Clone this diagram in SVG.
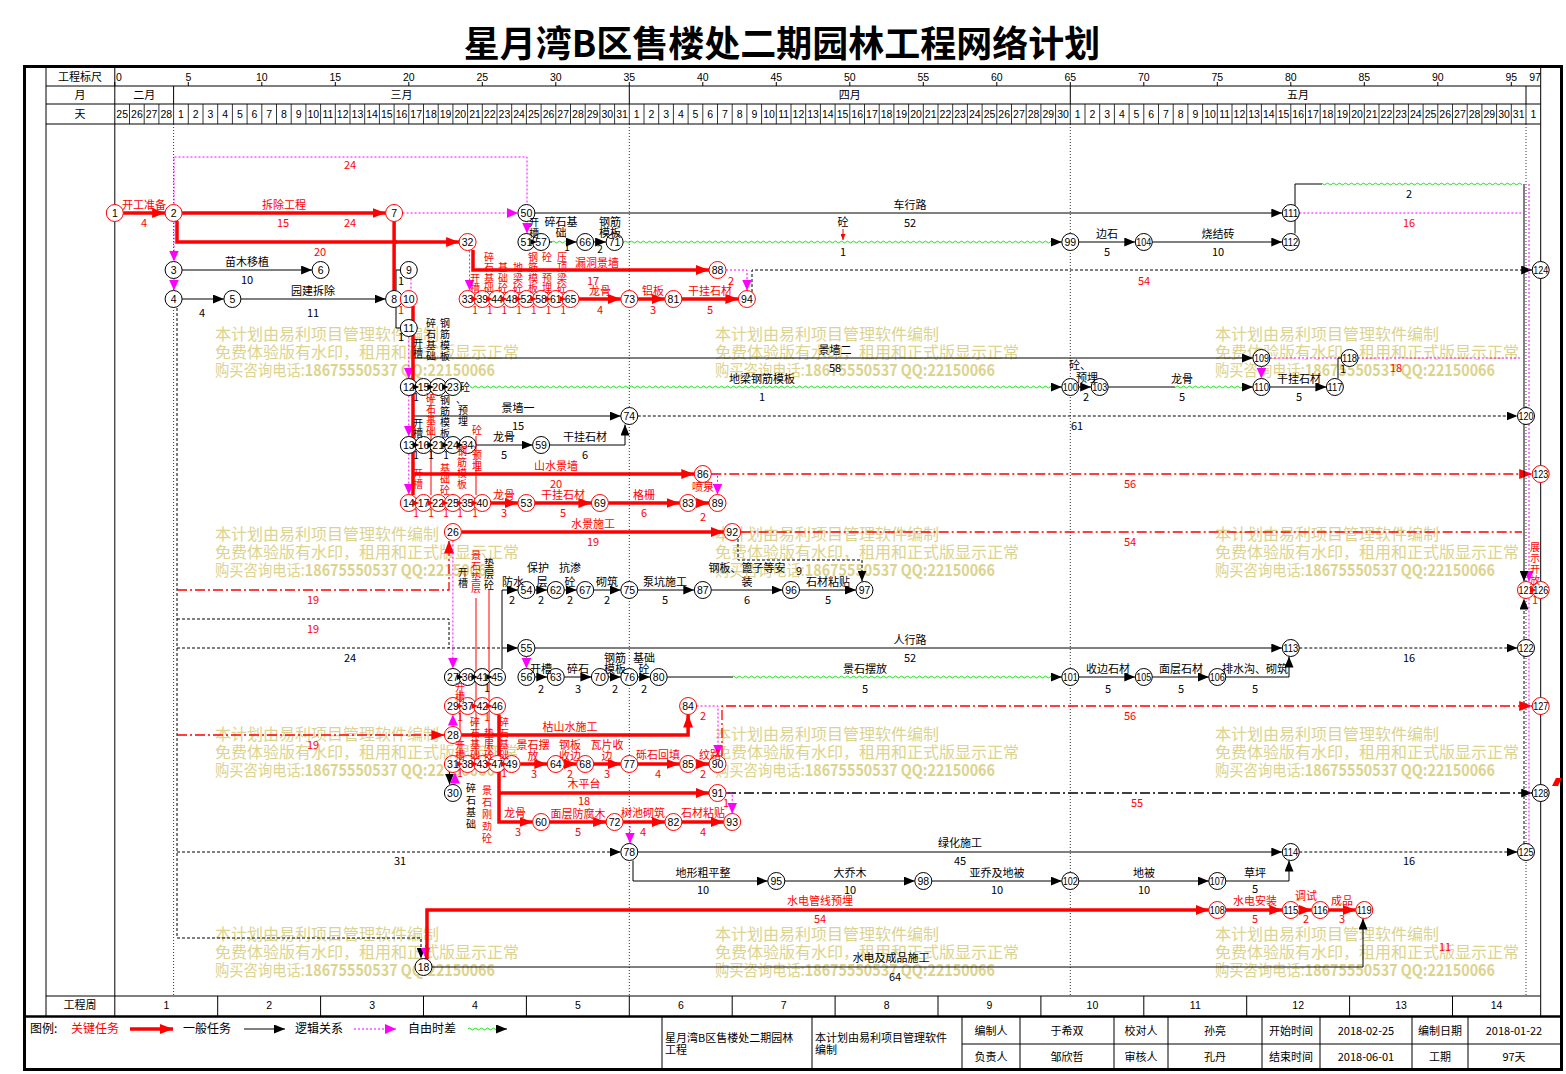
<svg xmlns="http://www.w3.org/2000/svg" width="1566" height="1074" viewBox="0 0 1566 1074">
<style>
text{font-family:"Noto Sans CJK SC","Liberation Sans",sans-serif;font-size:11px;fill:#000;text-anchor:middle}
.r{fill:#f00}
.s{text-anchor:start}
.hd{font-family:"Liberation Sans Narrow","Liberation Sans",sans-serif;font-size:10.5px}
#wm text{font-size:16px;fill:#dcd38e;text-anchor:start}
.v{font-size:10px}
.nb circle{fill:#fff;stroke:#000;stroke-width:1}
.nr circle{fill:#fff;stroke:#f00;stroke-width:1}
.nb text,.nr text{font-family:"Liberation Sans Narrow","Liberation Sans",sans-serif;font-size:10.5px}
.cr{stroke:#f00;stroke-width:3.5;fill:none}
.crt{stroke:#f00;stroke-width:1;fill:none}
.cb{stroke:#000;stroke-width:1;fill:none}
.cm{stroke:#f0f;stroke-width:1;stroke-dasharray:2 2;fill:none}
.cd{stroke:#000;stroke-width:1;stroke-dasharray:3 2;fill:none}
.crd{stroke:#f00;stroke-width:1.3;stroke-dasharray:10 3 2 3;fill:none}
.cbd{stroke:#000;stroke-width:1.3;stroke-dasharray:10 3 2 3;fill:none}
.tr{fill:#f00}
.tb{fill:#000}
</style>
<defs>
<marker id="ab" markerUnits="userSpaceOnUse" markerWidth="11" markerHeight="9" viewBox="0 0 11 9" refX="11" refY="4.5" orient="auto"><path d="M0,0L11,4.5L0,9z" fill="#000"/></marker>
<marker id="ar" markerUnits="userSpaceOnUse" markerWidth="13" markerHeight="10" viewBox="0 0 13 10" refX="13" refY="5" orient="auto"><path d="M0,0L13,5L0,10z" fill="#f00"/></marker>
<marker id="am" markerUnits="userSpaceOnUse" markerWidth="11" markerHeight="10" viewBox="0 0 11 10" refX="11" refY="5" orient="auto"><path d="M0,0L11,5L0,10z" fill="#f0f"/></marker>
<marker id="ars" markerUnits="userSpaceOnUse" markerWidth="6" markerHeight="5" viewBox="0 0 6 5" refX="6" refY="2.5" orient="auto"><path d="M0,0L6,2.5L0,5z" fill="#f00"/></marker>
<pattern id="wv" patternUnits="userSpaceOnUse" width="6" height="4"><path d="M0,2Q1.5,0.3 3,2T6,2" fill="none" stroke="#00dd00" stroke-width="0.9"/></pattern>
<path id="tri" d="M-3.5,-3L3,0L-3.5,3z"/>
<g id="wm">
<text x="0" y="0">本计划由易利项目管理软件编制</text>
<text x="0" y="18">免费体验版有水印，租用和正式版显示正常</text>
<text x="0" y="36" textLength="280" lengthAdjust="spacingAndGlyphs">购买咨询电话:<tspan font-weight="bold">18675550537 QQ:22150066</tspan></text>
</g>
</defs>

<text x="782" y="57" style="font-size:36px;font-weight:bold">星月湾B区售楼处二期园林工程网络计划</text>

<g id="frame" fill="none" stroke="#000">
<rect x="24.5" y="66.5" width="1537" height="1003" stroke-width="3"/>
<path d="M46,66V1016M114.8,66V1016M1540.7,66V1016M46,86H1540.7M46,104H1540.7M46,124H1540.7M46,996H1540.7" stroke-width="1"/>
<path d="M24,1016.5H1562" stroke-width="2.5"/>
<path d="M173.6,86V104M629.3,86V104M1070.3,86V104M1526,86V104" stroke-width="1"/>
<path d="M114.8,82V86M188.3,82V86M261.8,82V86M335.3,82V86M408.8,82V86M482.3,82V86M555.8,82V86M629.3,82V86M702.8,82V86M776.3,82V86M849.8,82V86M923.3,82V86M996.8,82V86M1070.3,82V86M1143.8,82V86M1217.3,82V86M1290.8,82V86M1364.3,82V86M1437.8,82V86M1511.3,82V86" stroke-width="1"/>
<path stroke-width="0.8" d="M129.5,104V124M144.2,104V124M158.9,104V124M173.6,104V124M188.3,104V124M203,104V124M217.7,104V124M232.4,104V124M247.1,104V124M261.8,104V124M276.5,104V124M291.2,104V124M305.9,104V124M320.6,104V124M335.3,104V124M350,104V124M364.7,104V124M379.4,104V124M394.1,104V124M408.8,104V124M423.5,104V124M438.2,104V124M452.9,104V124M467.6,104V124M482.3,104V124M497,104V124M511.7,104V124M526.4,104V124M541.1,104V124M555.8,104V124M570.5,104V124M585.2,104V124M599.9,104V124M614.6,104V124M629.3,104V124M644,104V124M658.7,104V124M673.4,104V124M688.1,104V124M702.8,104V124M717.5,104V124M732.2,104V124M746.9,104V124M761.6,104V124M776.3,104V124M791,104V124M805.7,104V124M820.4,104V124M835.1,104V124M849.8,104V124M864.5,104V124M879.2,104V124M893.9,104V124M908.6,104V124M923.3,104V124M938,104V124M952.7,104V124M967.4,104V124M982.1,104V124M996.8,104V124M1011.5,104V124M1026.2,104V124M1040.9,104V124M1055.6,104V124M1070.3,104V124M1085,104V124M1099.7,104V124M1114.4,104V124M1129.1,104V124M1143.8,104V124M1158.5,104V124M1173.2,104V124M1187.9,104V124M1202.6,104V124M1217.3,104V124M1232,104V124M1246.7,104V124M1261.4,104V124M1276.1,104V124M1290.8,104V124M1305.5,104V124M1320.2,104V124M1334.9,104V124M1349.6,104V124M1364.3,104V124M1379,104V124M1393.7,104V124M1408.4,104V124M1423.1,104V124M1437.8,104V124M1452.5,104V124M1467.2,104V124M1481.9,104V124M1496.6,104V124M1511.3,104V124M1526,104V124"/>
<path d="M217.7,996V1016M320.6,996V1016M423.5,996V1016M526.4,996V1016M629.3,996V1016M732.2,996V1016M835.1,996V1016M938,996V1016M1040.9,996V1016M1143.8,996V1016M1246.7,996V1016M1349.6,996V1016M1452.5,996V1016" stroke-width="1"/>
<path d="M662,1016V1069M812,1016V1069M962,1016V1069M1020,1016V1069M1114,1016V1069M1168,1016V1069M1262,1016V1069M1320,1016V1069M1412,1016V1069M1468,1016V1069M962,1044H1562" stroke-width="1"/>
<path d="M173.6,124V996M629.3,124V996M1070.3,124V996M1526,124V996" stroke-width="0.8" stroke-dasharray="1 2"/>
</g>

<g id="header">
<text x="80" y="81">工程标尺</text>
<text x="80" y="99">月</text>
<text x="80" y="118">天</text>
<text x="80" y="1009">工程周</text>
<text x="119" y="81" class="hd">0</text><text class="hd" x="188.3" y="81">5</text><text class="hd" x="261.8" y="81">10</text><text class="hd" x="335.3" y="81">15</text><text class="hd" x="408.8" y="81">20</text><text class="hd" x="482.3" y="81">25</text><text class="hd" x="555.8" y="81">30</text><text class="hd" x="629.3" y="81">35</text><text class="hd" x="702.8" y="81">40</text><text class="hd" x="776.3" y="81">45</text><text class="hd" x="849.8" y="81">50</text><text class="hd" x="923.3" y="81">55</text><text class="hd" x="996.8" y="81">60</text><text class="hd" x="1070.3" y="81">65</text><text class="hd" x="1143.8" y="81">70</text><text class="hd" x="1217.3" y="81">75</text><text class="hd" x="1290.8" y="81">80</text><text class="hd" x="1364.3" y="81">85</text><text class="hd" x="1437.8" y="81">90</text><text class="hd" x="1511.3" y="81">95</text><text class="hd" x="1535" y="81">97</text>
<text x="144.2" y="99">二月</text><text x="401.5" y="99">三月</text><text x="849.8" y="99">四月</text><text x="1298" y="99">五月</text>
<text class="hd" y="118"><tspan x="122.2">25</tspan><tspan x="136.9">26</tspan><tspan x="151.6">27</tspan><tspan x="166.3">28</tspan><tspan x="181">1</tspan><tspan x="195.7">2</tspan><tspan x="210.4">3</tspan><tspan x="225.1">4</tspan><tspan x="239.8">5</tspan><tspan x="254.5">6</tspan><tspan x="269.2">7</tspan><tspan x="283.9">8</tspan><tspan x="298.6">9</tspan><tspan x="313.3">10</tspan><tspan x="328">11</tspan><tspan x="342.7">12</tspan><tspan x="357.4">13</tspan><tspan x="372.1">14</tspan><tspan x="386.8">15</tspan><tspan x="401.5">16</tspan><tspan x="416.2">17</tspan><tspan x="430.9">18</tspan><tspan x="445.6">19</tspan><tspan x="460.3">20</tspan><tspan x="475">21</tspan><tspan x="489.7">22</tspan><tspan x="504.4">23</tspan><tspan x="519.1">24</tspan><tspan x="533.8">25</tspan><tspan x="548.5">26</tspan><tspan x="563.2">27</tspan><tspan x="577.9">28</tspan><tspan x="592.6">29</tspan><tspan x="607.3">30</tspan><tspan x="622">31</tspan><tspan x="636.7">1</tspan><tspan x="651.4">2</tspan><tspan x="666.1">3</tspan><tspan x="680.8">4</tspan><tspan x="695.5">5</tspan><tspan x="710.2">6</tspan><tspan x="724.9">7</tspan><tspan x="739.6">8</tspan><tspan x="754.3">9</tspan><tspan x="769">10</tspan><tspan x="783.7">11</tspan><tspan x="798.4">12</tspan><tspan x="813.1">13</tspan><tspan x="827.8">14</tspan><tspan x="842.5">15</tspan><tspan x="857.2">16</tspan><tspan x="871.9">17</tspan><tspan x="886.6">18</tspan><tspan x="901.3">19</tspan><tspan x="916">20</tspan><tspan x="930.7">21</tspan><tspan x="945.4">22</tspan><tspan x="960.1">23</tspan><tspan x="974.8">24</tspan><tspan x="989.5">25</tspan><tspan x="1004.2">26</tspan><tspan x="1018.9">27</tspan><tspan x="1033.6">28</tspan><tspan x="1048.3">29</tspan><tspan x="1063">30</tspan><tspan x="1077.7">1</tspan><tspan x="1092.4">2</tspan><tspan x="1107.1">3</tspan><tspan x="1121.8">4</tspan><tspan x="1136.5">5</tspan><tspan x="1151.2">6</tspan><tspan x="1165.9">7</tspan><tspan x="1180.6">8</tspan><tspan x="1195.3">9</tspan><tspan x="1210">10</tspan><tspan x="1224.7">11</tspan><tspan x="1239.4">12</tspan><tspan x="1254.1">13</tspan><tspan x="1268.8">14</tspan><tspan x="1283.5">15</tspan><tspan x="1298.2">16</tspan><tspan x="1312.9">17</tspan><tspan x="1327.6">18</tspan><tspan x="1342.3">19</tspan><tspan x="1357">20</tspan><tspan x="1371.7">21</tspan><tspan x="1386.4">22</tspan><tspan x="1401.1">23</tspan><tspan x="1415.8">24</tspan><tspan x="1430.5">25</tspan><tspan x="1445.2">26</tspan><tspan x="1459.9">27</tspan><tspan x="1474.6">28</tspan><tspan x="1489.3">29</tspan><tspan x="1504">30</tspan><tspan x="1518.7">31</tspan><tspan x="1533.4">1</tspan></text>
<text class="hd" y="1009"><tspan x="166.3">1</tspan><tspan x="269.2">2</tspan><tspan x="372.1">3</tspan><tspan x="475">4</tspan><tspan x="577.9">5</tspan><tspan x="680.8">6</tspan><tspan x="783.7">7</tspan><tspan x="886.6">8</tspan><tspan x="989.5">9</tspan><tspan x="1092.4">10</tspan><tspan x="1195.3">11</tspan><tspan x="1298.2">12</tspan><tspan x="1401.1">13</tspan><tspan x="1496.6">14</tspan></text>
</g>

<g id="watermarks">
<use href="#wm" x="215" y="340"/><use href="#wm" x="715" y="340"/><use href="#wm" x="1215" y="340"/>
<use href="#wm" x="215" y="540"/><use href="#wm" x="715" y="540"/><use href="#wm" x="1215" y="540"/>
<use href="#wm" x="215" y="740"/><use href="#wm" x="715" y="740"/><use href="#wm" x="1215" y="740"/>
<use href="#wm" x="215" y="940"/><use href="#wm" x="715" y="940"/><use href="#wm" x="1215" y="940"/>
</g>

<g id="connectors">
<rect x="623" y="0" width="432" height="4" fill="url(#wv)" transform="translate(0,240)"/>
<rect x="552" y="0" width="16" height="4" fill="url(#wv)" transform="translate(0,240)"/>
<rect x="470" y="0" width="585" height="4" fill="url(#wv)" transform="translate(0,385)"/>
<rect x="1175" y="0" width="70" height="4" fill="url(#wv)" transform="translate(0,385)"/>
<rect x="733" y="0" width="322" height="4" fill="url(#wv)" transform="translate(0,675)"/>
<rect x="1322" y="0" width="200" height="4" fill="url(#wv)" transform="translate(0,182)"/>
<path class="cd" d="M177,308V938H421V958.5" marker-end="url(#ab)"/>
<path class="cd" d="M177,619H449V648"/>
<path class="cd" d="M177,648H502"/>
<path class="cd" d="M177,852H620.8" marker-end="url(#ab)"/>
<path class="cd" d="M637.8,416H1517.5" marker-end="url(#ab)"/>
<path class="cd" d="M752,292V270H1532.2" marker-end="url(#ab)"/>
<path class="cd" d="M1299.3,648H1517.5" marker-end="url(#ab)"/>
<path class="cd" d="M1299.3,852H1517.5" marker-end="url(#ab)"/>
<path class="cd" d="M738,539V560H862V581.5" marker-end="url(#ab)"/>
<path class="cd" d="M1524,844V598.5" marker-end="url(#ab)"/>
<path class="crd" d="M177,590H449V540.5" marker-end="url(#ar)"/>
<path class="crd" d="M177,735H444.4" marker-end="url(#ar)"/>
<path class="crd" d="M711.3,474H1532.2" marker-end="url(#ar)"/>
<path class="crd" d="M740.7,532H1522"/>
<path class="crd" d="M722,756V706H1532.2" marker-end="url(#ar)"/>
<path class="cbd" d="M726,793H1532.2" marker-end="url(#ab)"/>
<path class="cm" d="M174,204.5V157H527V233.5" marker-end="url(#am)"/>
<path class="cm" d="M174,221.5V261.5" marker-end="url(#am)"/>
<path class="cm" d="M174,278.5V290.5" marker-end="url(#am)"/>
<path class="cm" d="M402.6,213H517.9" marker-end="url(#am)"/>
<path class="cm" d="M469.6,250.5V290.5" marker-end="url(#am)"/>
<path class="cm" d="M726,270H747V290.5" marker-end="url(#am)"/>
<path class="cm" d="M411,278.5V290.5"/>
<path class="cm" d="M408.8,336.5V378.5" marker-end="url(#am)"/>
<path class="cm" d="M408.8,395.5V436.5" marker-end="url(#am)"/>
<path class="cm" d="M408.8,453.5V494.5" marker-end="url(#am)"/>
<path class="cm" d="M711.3,474H717.5V494.5" marker-end="url(#am)"/>
<path class="cm" d="M1269.9,358H1522"/>
<path class="cm" d="M1261.4,366.5V378.5" marker-end="url(#am)"/>
<path class="cm" d="M1299.3,213H1522"/>
<path class="cm" d="M452.9,540.5V668.5" marker-end="url(#am)"/>
<path class="cm" d="M526.4,656.5V668.5" marker-end="url(#am)"/>
<path class="cm" d="M696.6,706H718V755.5" marker-end="url(#am)"/>
<path class="cm" d="M726,793H732.2V813.5" marker-end="url(#am)"/>
<path class="cm" d="M452.9,726.5V714.5" marker-end="url(#am)"/>
<path class="cm" d="M455,784.5V772.5" marker-end="url(#am)"/>
<path class="cm" d="M630,822V843.5" marker-end="url(#am)"/>
<path class="cm" d="M1529,184V581.5" marker-end="url(#am)"/>
<path class="cm" d="M1529,598.5V845"/>
<path class="cm" d="M425.5,945V958.5" marker-end="url(#am)"/>
<path class="cb" d="M182.1,270H312.1" marker-end="url(#ab)"/>
<path class="cb" d="M182.1,299H223.9" marker-end="url(#ab)"/>
<path class="cb" d="M240.9,299H385.6" marker-end="url(#ab)"/>
<path class="cb" d="M396,290.5V270H400.3"/>
<path class="cb" d="M396,307.5V328H400.3"/>
<path class="cb" d="M413,358H1252.9" marker-end="url(#ab)"/>
<path class="cb" d="M413,416H620.8" marker-end="url(#ab)"/>
<path class="cb" d="M476.1,445H532.6" marker-end="url(#ab)"/>
<path class="cb" d="M549.6,445H625V424.5" marker-end="url(#ab)"/>
<path class="cb" d="M534.9,213H1282.3" marker-end="url(#ab)"/>
<path class="cb" d="M1295,233.5V184H1322"/>
<path class="cb" d="M549.6,242H552M568,242H576.7" marker-end="url(#ab)"/>
<path class="cb" d="M593.7,242H606.1" marker-end="url(#ab)"/>
<path class="cb" d="M1055,242H1061.8" marker-end="url(#ab)"/>
<path class="cb" d="M1078.8,242H1135.3" marker-end="url(#ab)"/>
<path class="cb" d="M1152.3,242H1282.3" marker-end="url(#ab)"/>
<path class="cb" d="M1055,387H1061.8" marker-end="url(#ab)"/>
<path class="cb" d="M1078.8,387H1091.2" marker-end="url(#ab)"/>
<path class="cb" d="M1108.2,387H1175"/>
<path class="cb" d="M1245,387H1252.9" marker-end="url(#ab)"/>
<path class="cb" d="M1269.9,387H1326.4" marker-end="url(#ab)"/>
<path class="cb" d="M1338,378.5V358H1341.1"/>
<path class="cb" d="M502,669V590H517.9" marker-end="url(#ab)"/>
<path class="cb" d="M502,648H517.9" marker-end="url(#ab)"/>
<path class="cb" d="M534.9,590H547.3" marker-end="url(#ab)"/>
<path class="cb" d="M564.3,590H576.7" marker-end="url(#ab)"/>
<path class="cb" d="M593.7,590H620.8" marker-end="url(#ab)"/>
<path class="cb" d="M637.8,590H694.3" marker-end="url(#ab)"/>
<path class="cb" d="M711.3,590H782.5" marker-end="url(#ab)"/>
<path class="cb" d="M799.5,590H856" marker-end="url(#ab)"/>
<path class="cb" d="M534.9,648H1282.3" marker-end="url(#ab)"/>
<path class="cb" d="M534.9,677H547.3" marker-end="url(#ab)"/>
<path class="cb" d="M564.3,677H591.4" marker-end="url(#ab)"/>
<path class="cb" d="M608.4,677H620.8" marker-end="url(#ab)"/>
<path class="cb" d="M637.8,677H650.2" marker-end="url(#ab)"/>
<path class="cb" d="M667.2,677H733"/>
<path class="cb" d="M1055,677H1061.8" marker-end="url(#ab)"/>
<path class="cb" d="M1078.8,677H1135.3" marker-end="url(#ab)"/>
<path class="cb" d="M1152.3,677H1208.8" marker-end="url(#ab)"/>
<path class="cb" d="M1225.8,677H1289V656.5" marker-end="url(#ab)"/>
<path class="cb" d="M637.8,852H1282.3" marker-end="url(#ab)"/>
<path class="cb" d="M633,860.5V881H767.8" marker-end="url(#ab)"/>
<path class="cb" d="M784.8,881H914.8" marker-end="url(#ab)"/>
<path class="cb" d="M931.8,881H1061.8" marker-end="url(#ab)"/>
<path class="cb" d="M1078.8,881H1208.8" marker-end="url(#ab)"/>
<path class="cb" d="M1225.8,881H1289V860.5" marker-end="url(#ab)"/>
<path class="cb" d="M432,967H1363V918.5" marker-end="url(#ab)"/>
<path class="cb" d="M1524,184V581.5" marker-end="url(#ab)"/>
<path class="cb" d="M449.5,772V784.5" marker-end="url(#ab)"/>
<path class="cr" d="M123.3,213H165.1" marker-end="url(#ar)"/>
<path class="cr" d="M182.1,213H385.6" marker-end="url(#ar)"/>
<path class="cr" d="M177,221V242H459.1" marker-end="url(#ar)"/>
<path class="cr" d="M394.1,221.5V292"/>
<path class="cr" d="M413,306V495"/>
<path class="cr" d="M413,474H694.3" marker-end="url(#ar)"/>
<path class="cr" d="M473,250V270H709" marker-end="url(#ar)"/>
<path class="cr" d="M579,299H620.8" marker-end="url(#ar)"/>
<path class="cr" d="M637.8,299H664.9" marker-end="url(#ar)"/>
<path class="cr" d="M681.9,299H738.4" marker-end="url(#ar)"/>
<path class="cr" d="M490.8,503H517.9" marker-end="url(#ar)"/>
<path class="cr" d="M534.9,503H591.4" marker-end="url(#ar)"/>
<path class="cr" d="M608.4,503H679.6" marker-end="url(#ar)"/>
<path class="cr" d="M696.6,503H709" marker-end="url(#ar)"/>
<path class="cr" d="M461.4,532H723.7" marker-end="url(#ar)"/>
<path class="cr" d="M461.4,735H688.1V714.5" marker-end="url(#ar)"/>
<path class="cr" d="M520.2,764H547.3" marker-end="url(#ar)"/>
<path class="cr" d="M564.3,764H576.7" marker-end="url(#ar)"/>
<path class="cr" d="M593.7,764H620.8" marker-end="url(#ar)"/>
<path class="cr" d="M637.8,764H679.6" marker-end="url(#ar)"/>
<path class="cr" d="M696.6,764H709" marker-end="url(#ar)"/>
<path class="cr" d="M499,714.5V822H532.6" marker-end="url(#ar)"/>
<path class="cr" d="M499,793H709" marker-end="url(#ar)"/>
<path class="cr" d="M549.6,822H606.1" marker-end="url(#ar)"/>
<path class="cr" d="M623.1,822H664.9" marker-end="url(#ar)"/>
<path class="cr" d="M681.9,822H723.7" marker-end="url(#ar)"/>
<path class="cr" d="M427,959V910H1208.8" marker-end="url(#ar)"/>
<path class="cr" d="M1225.8,910H1282.3" marker-end="url(#ar)"/>
<path class="cr" d="M1299.3,910H1311.7" marker-end="url(#ar)"/>
<path class="cr" d="M1328.7,910H1355.8" marker-end="url(#ar)"/>
<path class="crt" d="M843,229V240" marker-end="url(#ars)"/>
<path class="crt" d="M431,395V495M476,436V495M460,690V756M476,598V756M489,590V756"/>
</g>

<g id="nodes">
<g id="n1" class="nr"><circle cx="114.8" cy="213" r="8.5"/><text x="114.8" y="216.7">1</text></g>
<g id="n2" class="nr"><circle cx="173.6" cy="213" r="8.5"/><text x="173.6" y="216.7">2</text></g>
<g id="n7" class="nr"><circle cx="394.1" cy="213" r="8.5"/><text x="394.1" y="216.7">7</text></g>
<g id="n50" class="nb"><circle cx="526.4" cy="213" r="8.5"/><text x="526.4" y="216.7">50</text></g>
<g id="n111" class="nb"><circle cx="1290.8" cy="213" r="8.5"/><text x="1290.8" y="216.7" textLength="15" lengthAdjust="spacingAndGlyphs">111</text></g>
<g id="n32" class="nr"><circle cx="467.6" cy="242" r="8.5"/><text x="467.6" y="245.7">32</text></g>
<g id="n51" class="nb"><circle cx="526.4" cy="242" r="8.5"/><text x="526.4" y="245.7">51</text></g>
<g id="n57" class="nb"><circle cx="541.1" cy="242" r="8.5"/><text x="541.1" y="245.7">57</text></g>
<g id="n66" class="nb"><circle cx="585.2" cy="242" r="8.5"/><text x="585.2" y="245.7">66</text></g>
<g id="n71" class="nb"><circle cx="614.6" cy="242" r="8.5"/><text x="614.6" y="245.7">71</text></g>
<g id="n99" class="nb"><circle cx="1070.3" cy="242" r="8.5"/><text x="1070.3" y="245.7">99</text></g>
<g id="n104" class="nb"><circle cx="1143.8" cy="242" r="8.5"/><text x="1143.8" y="245.7" textLength="15" lengthAdjust="spacingAndGlyphs">104</text></g>
<g id="n112" class="nb"><circle cx="1290.8" cy="242" r="8.5"/><text x="1290.8" y="245.7" textLength="15" lengthAdjust="spacingAndGlyphs">112</text></g>
<g id="n3" class="nb"><circle cx="173.6" cy="270" r="8.5"/><text x="173.6" y="273.7">3</text></g>
<g id="n6" class="nb"><circle cx="320.6" cy="270" r="8.5"/><text x="320.6" y="273.7">6</text></g>
<g id="n9" class="nb"><circle cx="408.8" cy="270" r="8.5"/><text x="408.8" y="273.7">9</text></g>
<g id="n88" class="nr"><circle cx="717.5" cy="270" r="8.5"/><text x="717.5" y="273.7">88</text></g>
<g id="n124" class="nb"><circle cx="1540.7" cy="270" r="8.5"/><text x="1540.7" y="273.7" textLength="15" lengthAdjust="spacingAndGlyphs">124</text></g>
<g id="n4" class="nb"><circle cx="173.6" cy="299" r="8.5"/><text x="173.6" y="302.7">4</text></g>
<g id="n5" class="nb"><circle cx="232.4" cy="299" r="8.5"/><text x="232.4" y="302.7">5</text></g>
<g id="n8" class="nb"><circle cx="394.1" cy="299" r="8.5"/><text x="394.1" y="302.7">8</text></g>
<g id="n10" class="nr"><circle cx="408.8" cy="299" r="8.5"/><text x="408.8" y="302.7">10</text></g>
<g id="n33" class="nr"><circle cx="467.6" cy="299" r="8.5"/><text x="467.6" y="302.7">33</text></g>
<g id="n39" class="nr"><circle cx="482.3" cy="299" r="8.5"/><text x="482.3" y="302.7">39</text></g>
<g id="n44" class="nr"><circle cx="497" cy="299" r="8.5"/><text x="497" y="302.7">44</text></g>
<g id="n48" class="nr"><circle cx="511.7" cy="299" r="8.5"/><text x="511.7" y="302.7">48</text></g>
<g id="n52" class="nr"><circle cx="526.4" cy="299" r="8.5"/><text x="526.4" y="302.7">52</text></g>
<g id="n58" class="nr"><circle cx="541.1" cy="299" r="8.5"/><text x="541.1" y="302.7">58</text></g>
<g id="n61" class="nr"><circle cx="555.8" cy="299" r="8.5"/><text x="555.8" y="302.7">61</text></g>
<g id="n65" class="nr"><circle cx="570.5" cy="299" r="8.5"/><text x="570.5" y="302.7">65</text></g>
<g id="n73" class="nr"><circle cx="629.3" cy="299" r="8.5"/><text x="629.3" y="302.7">73</text></g>
<g id="n81" class="nr"><circle cx="673.4" cy="299" r="8.5"/><text x="673.4" y="302.7">81</text></g>
<g id="n94" class="nr"><circle cx="746.9" cy="299" r="8.5"/><text x="746.9" y="302.7">94</text></g>
<g id="n11" class="nb"><circle cx="408.8" cy="328" r="8.5"/><text x="408.8" y="331.7">11</text></g>
<g id="n109" class="nb"><circle cx="1261.4" cy="358" r="8.5"/><text x="1261.4" y="361.7" textLength="15" lengthAdjust="spacingAndGlyphs">109</text></g>
<g id="n118" class="nb"><circle cx="1349.6" cy="358" r="8.5"/><text x="1349.6" y="361.7" textLength="15" lengthAdjust="spacingAndGlyphs">118</text></g>
<g id="n12" class="nb"><circle cx="408.8" cy="387" r="8.5"/><text x="408.8" y="390.7">12</text></g>
<g id="n15" class="nb"><circle cx="423.5" cy="387" r="8.5"/><text x="423.5" y="390.7">15</text></g>
<g id="n20" class="nb"><circle cx="438.2" cy="387" r="8.5"/><text x="438.2" y="390.7">20</text></g>
<g id="n23" class="nb"><circle cx="452.9" cy="387" r="8.5"/><text x="452.9" y="390.7">23</text></g>
<g id="n100" class="nb"><circle cx="1070.3" cy="387" r="8.5"/><text x="1070.3" y="390.7" textLength="15" lengthAdjust="spacingAndGlyphs">100</text></g>
<g id="n103" class="nb"><circle cx="1099.7" cy="387" r="8.5"/><text x="1099.7" y="390.7" textLength="15" lengthAdjust="spacingAndGlyphs">103</text></g>
<g id="n110" class="nb"><circle cx="1261.4" cy="387" r="8.5"/><text x="1261.4" y="390.7" textLength="15" lengthAdjust="spacingAndGlyphs">110</text></g>
<g id="n117" class="nb"><circle cx="1334.9" cy="387" r="8.5"/><text x="1334.9" y="390.7" textLength="15" lengthAdjust="spacingAndGlyphs">117</text></g>
<g id="n74" class="nb"><circle cx="629.3" cy="416" r="8.5"/><text x="629.3" y="419.7">74</text></g>
<g id="n120" class="nb"><circle cx="1526" cy="416" r="8.5"/><text x="1526" y="419.7" textLength="15" lengthAdjust="spacingAndGlyphs">120</text></g>
<g id="n13" class="nb"><circle cx="408.8" cy="445" r="8.5"/><text x="408.8" y="448.7">13</text></g>
<g id="n16" class="nb"><circle cx="423.5" cy="445" r="8.5"/><text x="423.5" y="448.7">16</text></g>
<g id="n21" class="nb"><circle cx="438.2" cy="445" r="8.5"/><text x="438.2" y="448.7">21</text></g>
<g id="n24" class="nb"><circle cx="452.9" cy="445" r="8.5"/><text x="452.9" y="448.7">24</text></g>
<g id="n34" class="nb"><circle cx="467.6" cy="445" r="8.5"/><text x="467.6" y="448.7">34</text></g>
<g id="n59" class="nb"><circle cx="541.1" cy="445" r="8.5"/><text x="541.1" y="448.7">59</text></g>
<g id="n86" class="nr"><circle cx="702.8" cy="474" r="8.5"/><text x="702.8" y="477.7">86</text></g>
<g id="n123" class="nr"><circle cx="1540.7" cy="474" r="8.5"/><text x="1540.7" y="477.7" textLength="15" lengthAdjust="spacingAndGlyphs">123</text></g>
<g id="n14" class="nr"><circle cx="408.8" cy="503" r="8.5"/><text x="408.8" y="506.7">14</text></g>
<g id="n17" class="nr"><circle cx="423.5" cy="503" r="8.5"/><text x="423.5" y="506.7">17</text></g>
<g id="n22" class="nr"><circle cx="438.2" cy="503" r="8.5"/><text x="438.2" y="506.7">22</text></g>
<g id="n25" class="nr"><circle cx="452.9" cy="503" r="8.5"/><text x="452.9" y="506.7">25</text></g>
<g id="n35" class="nr"><circle cx="467.6" cy="503" r="8.5"/><text x="467.6" y="506.7">35</text></g>
<g id="n40" class="nr"><circle cx="482.3" cy="503" r="8.5"/><text x="482.3" y="506.7">40</text></g>
<g id="n53" class="nr"><circle cx="526.4" cy="503" r="8.5"/><text x="526.4" y="506.7">53</text></g>
<g id="n69" class="nr"><circle cx="599.9" cy="503" r="8.5"/><text x="599.9" y="506.7">69</text></g>
<g id="n83" class="nr"><circle cx="688.1" cy="503" r="8.5"/><text x="688.1" y="506.7">83</text></g>
<g id="n89" class="nr"><circle cx="717.5" cy="503" r="8.5"/><text x="717.5" y="506.7">89</text></g>
<g id="n26" class="nr"><circle cx="452.9" cy="532" r="8.5"/><text x="452.9" y="535.7">26</text></g>
<g id="n92" class="nr"><circle cx="732.2" cy="532" r="8.5"/><text x="732.2" y="535.7">92</text></g>
<g id="n54" class="nb"><circle cx="526.4" cy="590" r="8.5"/><text x="526.4" y="593.7">54</text></g>
<g id="n62" class="nb"><circle cx="555.8" cy="590" r="8.5"/><text x="555.8" y="593.7">62</text></g>
<g id="n67" class="nb"><circle cx="585.2" cy="590" r="8.5"/><text x="585.2" y="593.7">67</text></g>
<g id="n75" class="nb"><circle cx="629.3" cy="590" r="8.5"/><text x="629.3" y="593.7">75</text></g>
<g id="n87" class="nb"><circle cx="702.8" cy="590" r="8.5"/><text x="702.8" y="593.7">87</text></g>
<g id="n96" class="nb"><circle cx="791" cy="590" r="8.5"/><text x="791" y="593.7">96</text></g>
<g id="n97" class="nb"><circle cx="864.5" cy="590" r="8.5"/><text x="864.5" y="593.7">97</text></g>
<g id="n121" class="nr"><circle cx="1526" cy="590" r="8.5"/><text x="1526" y="593.7" textLength="15" lengthAdjust="spacingAndGlyphs">121</text></g>
<g id="n126" class="nr"><circle cx="1540.7" cy="590" r="8.5"/><text x="1540.7" y="593.7" textLength="15" lengthAdjust="spacingAndGlyphs">126</text></g>
<g id="n55" class="nb"><circle cx="526.4" cy="648" r="8.5"/><text x="526.4" y="651.7">55</text></g>
<g id="n113" class="nb"><circle cx="1290.8" cy="648" r="8.5"/><text x="1290.8" y="651.7" textLength="15" lengthAdjust="spacingAndGlyphs">113</text></g>
<g id="n122" class="nb"><circle cx="1526" cy="648" r="8.5"/><text x="1526" y="651.7" textLength="15" lengthAdjust="spacingAndGlyphs">122</text></g>
<g id="n27" class="nb"><circle cx="452.9" cy="677" r="8.5"/><text x="452.9" y="680.7">27</text></g>
<g id="n36" class="nb"><circle cx="467.6" cy="677" r="8.5"/><text x="467.6" y="680.7">36</text></g>
<g id="n41" class="nb"><circle cx="482.3" cy="677" r="8.5"/><text x="482.3" y="680.7">41</text></g>
<g id="n45" class="nb"><circle cx="497" cy="677" r="8.5"/><text x="497" y="680.7">45</text></g>
<g id="n56" class="nb"><circle cx="526.4" cy="677" r="8.5"/><text x="526.4" y="680.7">56</text></g>
<g id="n63" class="nb"><circle cx="555.8" cy="677" r="8.5"/><text x="555.8" y="680.7">63</text></g>
<g id="n70" class="nb"><circle cx="599.9" cy="677" r="8.5"/><text x="599.9" y="680.7">70</text></g>
<g id="n76" class="nb"><circle cx="629.3" cy="677" r="8.5"/><text x="629.3" y="680.7">76</text></g>
<g id="n80" class="nb"><circle cx="658.7" cy="677" r="8.5"/><text x="658.7" y="680.7">80</text></g>
<g id="n101" class="nb"><circle cx="1070.3" cy="677" r="8.5"/><text x="1070.3" y="680.7" textLength="15" lengthAdjust="spacingAndGlyphs">101</text></g>
<g id="n105" class="nb"><circle cx="1143.8" cy="677" r="8.5"/><text x="1143.8" y="680.7" textLength="15" lengthAdjust="spacingAndGlyphs">105</text></g>
<g id="n106" class="nb"><circle cx="1217.3" cy="677" r="8.5"/><text x="1217.3" y="680.7" textLength="15" lengthAdjust="spacingAndGlyphs">106</text></g>
<g id="n29" class="nr"><circle cx="452.9" cy="706" r="8.5"/><text x="452.9" y="709.7">29</text></g>
<g id="n37" class="nr"><circle cx="467.6" cy="706" r="8.5"/><text x="467.6" y="709.7">37</text></g>
<g id="n42" class="nr"><circle cx="482.3" cy="706" r="8.5"/><text x="482.3" y="709.7">42</text></g>
<g id="n46" class="nr"><circle cx="497" cy="706" r="8.5"/><text x="497" y="709.7">46</text></g>
<g id="n84" class="nr"><circle cx="688.1" cy="706" r="8.5"/><text x="688.1" y="709.7">84</text></g>
<g id="n127" class="nr"><circle cx="1540.7" cy="706" r="8.5"/><text x="1540.7" y="709.7" textLength="15" lengthAdjust="spacingAndGlyphs">127</text></g>
<g id="n28" class="nr"><circle cx="452.9" cy="735" r="8.5"/><text x="452.9" y="738.7">28</text></g>
<g id="n31" class="nr"><circle cx="452.9" cy="764" r="8.5"/><text x="452.9" y="767.7">31</text></g>
<g id="n38" class="nr"><circle cx="467.6" cy="764" r="8.5"/><text x="467.6" y="767.7">38</text></g>
<g id="n43" class="nr"><circle cx="482.3" cy="764" r="8.5"/><text x="482.3" y="767.7">43</text></g>
<g id="n47" class="nr"><circle cx="497" cy="764" r="8.5"/><text x="497" y="767.7">47</text></g>
<g id="n49" class="nr"><circle cx="511.7" cy="764" r="8.5"/><text x="511.7" y="767.7">49</text></g>
<g id="n64" class="nr"><circle cx="555.8" cy="764" r="8.5"/><text x="555.8" y="767.7">64</text></g>
<g id="n68" class="nr"><circle cx="585.2" cy="764" r="8.5"/><text x="585.2" y="767.7">68</text></g>
<g id="n77" class="nr"><circle cx="629.3" cy="764" r="8.5"/><text x="629.3" y="767.7">77</text></g>
<g id="n85" class="nr"><circle cx="688.1" cy="764" r="8.5"/><text x="688.1" y="767.7">85</text></g>
<g id="n90" class="nr"><circle cx="717.5" cy="764" r="8.5"/><text x="717.5" y="767.7">90</text></g>
<g id="n30" class="nb"><circle cx="452.9" cy="793" r="8.5"/><text x="452.9" y="796.7">30</text></g>
<g id="n91" class="nr"><circle cx="717.5" cy="793" r="8.5"/><text x="717.5" y="796.7">91</text></g>
<g id="n128" class="nb"><circle cx="1540.7" cy="793" r="8.5"/><text x="1540.7" y="796.7" textLength="15" lengthAdjust="spacingAndGlyphs">128</text></g>
<g id="n60" class="nr"><circle cx="541.1" cy="822" r="8.5"/><text x="541.1" y="825.7">60</text></g>
<g id="n72" class="nr"><circle cx="614.6" cy="822" r="8.5"/><text x="614.6" y="825.7">72</text></g>
<g id="n82" class="nr"><circle cx="673.4" cy="822" r="8.5"/><text x="673.4" y="825.7">82</text></g>
<g id="n93" class="nr"><circle cx="732.2" cy="822" r="8.5"/><text x="732.2" y="825.7">93</text></g>
<g id="n78" class="nb"><circle cx="629.3" cy="852" r="8.5"/><text x="629.3" y="855.7">78</text></g>
<g id="n114" class="nb"><circle cx="1290.8" cy="852" r="8.5"/><text x="1290.8" y="855.7" textLength="15" lengthAdjust="spacingAndGlyphs">114</text></g>
<g id="n125" class="nb"><circle cx="1526" cy="852" r="8.5"/><text x="1526" y="855.7" textLength="15" lengthAdjust="spacingAndGlyphs">125</text></g>
<g id="n95" class="nb"><circle cx="776.3" cy="881" r="8.5"/><text x="776.3" y="884.7">95</text></g>
<g id="n98" class="nb"><circle cx="923.3" cy="881" r="8.5"/><text x="923.3" y="884.7">98</text></g>
<g id="n102" class="nb"><circle cx="1070.3" cy="881" r="8.5"/><text x="1070.3" y="884.7" textLength="15" lengthAdjust="spacingAndGlyphs">102</text></g>
<g id="n107" class="nb"><circle cx="1217.3" cy="881" r="8.5"/><text x="1217.3" y="884.7" textLength="15" lengthAdjust="spacingAndGlyphs">107</text></g>
<g id="n108" class="nr"><circle cx="1217.3" cy="910" r="8.5"/><text x="1217.3" y="913.7" textLength="15" lengthAdjust="spacingAndGlyphs">108</text></g>
<g id="n115" class="nr"><circle cx="1290.8" cy="910" r="8.5"/><text x="1290.8" y="913.7" textLength="15" lengthAdjust="spacingAndGlyphs">115</text></g>
<g id="n116" class="nr"><circle cx="1320.2" cy="910" r="8.5"/><text x="1320.2" y="913.7" textLength="15" lengthAdjust="spacingAndGlyphs">116</text></g>
<g id="n119" class="nr"><circle cx="1364.3" cy="910" r="8.5"/><text x="1364.3" y="913.7" textLength="15" lengthAdjust="spacingAndGlyphs">119</text></g>
<g id="n18" class="nb"><circle cx="423.5" cy="967" r="8.5"/><text x="423.5" y="970.7">18</text></g>
</g>

<g id="junctions">
<g class="tr">
<use href="#tri" x="397" y="242"/>
<use href="#tri" x="475" y="299"/><use href="#tri" x="489.7" y="299"/><use href="#tri" x="504.4" y="299"/><use href="#tri" x="519" y="299"/><use href="#tri" x="533.8" y="299"/><use href="#tri" x="548.5" y="299"/><use href="#tri" x="563.2" y="299"/>
<use href="#tri" x="416.2" y="503"/><use href="#tri" x="430.9" y="503"/><use href="#tri" x="445.6" y="503"/><use href="#tri" x="460.3" y="503"/><use href="#tri" x="475" y="503"/>
<use href="#tri" x="460.3" y="706"/><use href="#tri" x="475" y="706"/><use href="#tri" x="489.7" y="706"/>
<use href="#tri" x="460.3" y="764"/><use href="#tri" x="475" y="764"/><use href="#tri" x="489.7" y="764"/><use href="#tri" x="504.4" y="764"/>
<use href="#tri" x="1533.4" y="590"/>
</g>
<g class="tb">
<use href="#tri" x="533.8" y="242"/>
<use href="#tri" x="416.2" y="387"/><use href="#tri" x="430.9" y="387"/><use href="#tri" x="445.6" y="387"/>
<use href="#tri" x="416.2" y="445"/><use href="#tri" x="430.9" y="445"/><use href="#tri" x="445.6" y="445"/><use href="#tri" x="460.3" y="445"/>
<use href="#tri" x="460.3" y="677"/><use href="#tri" x="475" y="677"/><use href="#tri" x="489.7" y="677"/>
</g>
<polygon points="1552,786 1556,778 1562,778 1558,786" fill="#f00"/>
</g>

<g id="labels">
<text class="r" x="144" y="209">开工准备</text><text class="r" x="144" y="227">4</text>
<text class="r" x="284" y="209">拆除工程</text><text class="r" x="283" y="227">15</text>
<text class="r" x="350" y="227">24</text><text class="r" x="350" y="169">24</text>
<text x="910" y="209">车行路</text><text x="910" y="227">52</text>
<text class="r" x="1409" y="227">16</text><text x="1409" y="198">2</text>
<text class="r" x="320" y="256">20</text>
<text class="v" x="534 534" y="226 237">开槽</text>
<text x="561" y="226">碎石基</text><text x="561" y="237">础</text><text class="v" x="567" y="251">1</text>
<text x="610" y="226">钢筋</text><text x="610" y="237">模板</text><text class="v" x="600" y="253">2</text>
<text x="843" y="226">砼</text><text x="843" y="256">1</text>
<text x="1107" y="238">边石</text><text x="1107" y="256">5</text>
<text x="1218" y="238">烧结砖</text><text x="1218" y="256">10</text>
<text x="247" y="266">苗木移植</text><text x="247" y="284">10</text>
<text x="202" y="317">4</text>
<text x="313" y="295">园建拆除</text><text x="313" y="317">11</text>
<text x="401" y="285">1</text><text class="r" x="401" y="314">1</text><text x="401" y="341">1</text>
<text class="r v" x="475 475" y="282 292">开槽</text>
<text class="r v" x="489 489 489 489" y="261 271 282 292">碎石基础</text>
<text class="r v" x="503 503 503" y="271 282 292">基础砼</text>
<text class="r v" x="518 518 518" y="271 282 292">地梁砼</text>
<text class="r v" x="533 533 540 533 533" y="261 271 271 282 292">钢筋、模板</text>
<text class="r v" x="547 547 547 547" y="261 271 282 292">砼、预埋</text>
<text class="r v" x="562 562 562 562" y="261 271 282 292">压顶梁砼</text>
<text class="r" x="597" y="267">漏洞景墙</text>
<text class="r" x="593" y="285">17</text><text class="r" x="731" y="285">2</text>
<text class="r" x="1144" y="285">54</text>
<text class="r v" x="475" y="314">1</text><text class="r v" x="489.7" y="314">1</text><text class="r v" x="504.4" y="314">1</text><text class="r v" x="519" y="314">1</text><text class="r v" x="533.8" y="314">1</text><text class="r v" x="548.5" y="314">1</text><text class="r v" x="563.2" y="314">1</text>
<text class="r" x="600" y="295">龙骨</text><text class="r" x="600" y="314">4</text>
<text class="r" x="653" y="295">铝板</text><text class="r" x="653" y="314">3</text>
<text class="r" x="710" y="295">干挂石材</text><text class="r" x="710" y="314">5</text>
<text class="v" x="418 418" y="347 357">开槽</text>
<text class="v" x="431 431 431 431" y="327 338 349 360">碎石基础</text>
<text class="v" x="445 445 445 445" y="327 338 349 360">钢筋模板</text>
<text x="835" y="354">景墙二</text><text x="835" y="372">58</text>
<text class="r" x="1396" y="372">18</text><text x="1343" y="373">1</text>
<text class="v" x="465" y="391">砼</text><text class="v" x="461 463 463" y="403 414 425">、预埋</text>
<text class="v" x="416" y="401">1</text>
<text x="762" y="383">地梁钢筋模板</text><text x="762" y="401">1</text>
<text x="1080" y="369">砼、</text><text x="1087" y="382">预埋</text><text x="1086" y="401">2</text>
<text x="1182" y="383">龙骨</text><text x="1182" y="401">5</text>
<text x="1299" y="383">干挂石材</text><text x="1299" y="401">5</text>
<text x="518" y="412">景墙一</text><text x="518" y="430">15</text>
<text x="1077" y="430">61</text>
<text class="r v" x="431 431 431 431" y="402 413 424 435">碎石基础</text>
<text class="v" x="418 418" y="427 437">开槽</text>
<text class="v" x="445 445 445 445" y="404 415 426 437">钢筋模板</text>
<text class="r v" x="477 477 477 477" y="434 447 459 470">砼、预埋</text>
<text class="v" x="416" y="459">1</text><text class="v" x="431" y="459">1</text><text class="v" x="446" y="459">1</text>
<text x="504" y="441">龙骨</text><text x="504" y="459">5</text>
<text x="585" y="441">干挂石材</text><text x="585" y="459">6</text>
<text class="r v" x="418 418" y="477 488">开槽</text>
<text class="r v" x="445 445 445" y="472 483 494">基础砼</text>
<text class="r v" x="462 462 462 462" y="455 466 477 488">钢筋模板</text>
<text class="r" x="556" y="470">山水景墙</text><text class="r" x="556" y="488">20</text>
<text class="r" x="1130" y="488">56</text>
<text class="r" x="703" y="491">喷泉</text>
<text class="r" x="504" y="499">龙骨</text><text class="r" x="504" y="517">3</text>
<text class="r" x="563" y="499">干挂石材</text><text class="r" x="563" y="517">5</text>
<text class="r" x="644" y="499">格栅</text><text class="r" x="644" y="517">6</text>
<text class="r" x="703" y="521">2</text>
<text class="r v" x="416" y="517">1</text><text class="r v" x="431" y="517">1</text><text class="r v" x="446" y="517">1</text><text class="r v" x="460" y="517">1</text><text class="r v" x="475" y="517">1</text>
<text class="r" x="593" y="528">水景施工</text><text class="r" x="593" y="546">19</text>
<text class="r" x="1130" y="546">54</text>
<text class="v" x="463 463" y="576 587">开槽</text>
<text class="r v" x="476 476 476 476" y="559 570 581 592">景石垫层</text>
<text class="v" x="489 489 489" y="567 578 589">垫层砼</text>
<text x="513" y="586">防水</text><text x="512" y="604">2</text>
<text x="538" y="572">保护</text><text x="542" y="586">层</text><text x="541" y="604">2</text>
<text x="570" y="572">抗渗</text><text x="570" y="586">砼</text><text x="570" y="604">2</text>
<text x="607" y="586">砌筑</text><text x="607" y="604">2</text>
<text x="665" y="586">泵坑施工</text><text x="665" y="604">5</text>
<text x="747" y="572">钢板、篦子等安</text><text x="747" y="586">装</text><text x="747" y="604">6</text>
<text x="799" y="575">9</text>
<text x="828" y="586">石材粘贴</text><text x="828" y="604">5</text>
<text class="r v" x="1535 1535 1535 1535" y="551 562 573 584">展示开放</text><text class="r" x="1535" y="604">1</text>
<text class="r" x="313" y="604">19</text><text class="r" x="313" y="633">19</text><text x="350" y="662">24</text>
<text x="910" y="644">人行路</text><text x="910" y="662">52</text><text x="1409" y="662">16</text>
<text x="541" y="673">开槽</text><text x="541" y="693">2</text>
<text x="578" y="673">碎石</text><text x="578" y="693">3</text>
<text x="615" y="662">钢筋</text><text x="615" y="673">模板</text><text x="615" y="693">2</text>
<text x="644" y="662">基础</text><text x="644" y="673">砼</text><text x="644" y="693">2</text>
<text class="v" x="487" y="692">1</text>
<text class="r v" x="460 460" y="691 701">开槽</text>
<text class="r v" x="460" y="721">1</text><text class="r v" x="487" y="721">1</text>
<text x="865" y="673">景石摆放</text><text x="865" y="693">5</text>
<text x="1108" y="673">收边石材</text><text x="1108" y="693">5</text>
<text x="1181" y="673">面层石材</text><text x="1181" y="693">5</text>
<text x="1255" y="673">排水沟、砌筑</text><text x="1255" y="693">5</text>
<text class="r" x="703" y="720">2</text><text class="r" x="1130" y="720">56</text>
<text class="r" x="570" y="731">枯山水施工</text>
<text class="r" x="313" y="749">19</text>
<text class="r v" x="460 460" y="749 759">开槽</text>
<text class="r v" x="475 475 475 475" y="726 737 748 759">碎石基础</text>
<text class="r v" x="489 489 489" y="737 748 759">垫层砼</text>
<text class="r v" x="504 504 504 504" y="726 737 748 759">碎石基础</text>
<text class="r" x="533" y="749">景石摆</text><text class="r" x="533" y="760">放</text><text class="r" x="534" y="778">3</text>
<text class="r" x="570" y="749">钢板</text><text class="r" x="570" y="760">收边</text><text class="r" x="570" y="778">2</text>
<text class="r" x="607" y="749">瓦片收</text><text class="r" x="607" y="760">边</text><text class="r" x="607" y="778">3</text>
<text class="r" x="658" y="759">砾石回填</text><text class="r" x="658" y="778">4</text>
<text class="r" x="710" y="759">纹路</text><text class="r" x="703" y="778">2</text>
<text class="r v" x="460" y="777">1</text><text class="r v" x="504" y="777">1</text>
<text class="r" x="584" y="788">木平台</text><text class="r" x="584" y="805">18</text>
<text class="r" x="726" y="807">1</text><text class="r" x="1137" y="807">55</text>
<text class="v" x="471 471 471 471" y="792 804 816 828">碎石基础</text>
<text class="r v" x="487 487 487 487 487" y="794 806 818 830 842">景石刚劲砼</text>
<text class="r" x="515" y="817">龙骨</text><text class="r" x="518" y="836">3</text>
<text class="r" x="578" y="818">面层防腐木</text><text class="r" x="578" y="836">5</text>
<text class="r" x="643" y="817">树池砌筑</text><text class="r" x="643" y="836">4</text>
<text class="r" x="703" y="817">石材粘贴</text><text class="r" x="703" y="836">4</text>
<text x="960" y="847">绿化施工</text><text x="960" y="865">45</text><text x="400" y="865">31</text><text x="1409" y="865">16</text>
<text x="703" y="877">地形粗平整</text><text x="703" y="894">10</text>
<text x="850" y="877">大乔木</text><text x="850" y="894">10</text>
<text x="997" y="877">亚乔及地被</text><text x="997" y="894">10</text>
<text x="1144" y="877">地被</text><text x="1144" y="894">10</text>
<text x="1255" y="877">草坪</text><text x="1255" y="893">5</text>
<text class="r" x="820" y="905">水电管线预埋</text><text class="r" x="820" y="923">54</text>
<text class="r" x="1255" y="905">水电安装</text><text class="r" x="1255" y="923">5</text>
<text class="r" x="1306" y="900">调试</text><text class="r" x="1306" y="923">2</text>
<text class="r" x="1342" y="905">成品</text><text class="r" x="1342" y="923">3</text>
<text class="r" x="1445" y="951">11</text>
<text x="891" y="962">水电及成品施工</text><text x="895" y="981">64</text>
</g>

<g id="legend">
<text class="s" x="30" y="1033" style="font-size:12px">图例:</text>
<text class="s r" x="71" y="1033" style="font-size:12px">关键任务</text>
<path class="cr" d="M130,1029H173" marker-end="url(#ar)"/>
<text class="s" x="183" y="1033" style="font-size:12px">一般任务</text>
<path class="cb" d="M244,1029H285" marker-end="url(#ab)"/>
<text class="s" x="295" y="1033" style="font-size:12px">逻辑关系</text>
<path class="cm" d="M354,1029H396" marker-end="url(#am)"/>
<text class="s" x="408" y="1033" style="font-size:12px">自由时差</text>
<rect x="468" y="0" width="30" height="4" fill="url(#wv)" transform="translate(0,1027)"/>
<path class="cb" d="M498,1029H507" marker-end="url(#ab)"/>
</g>

<g id="footer">
<text class="s" x="665" y="1042">星月湾B区售楼处二期园林</text><text class="s" x="665" y="1054">工程</text>
<text class="s" x="815" y="1042">本计划由易利项目管理软件</text><text class="s" x="815" y="1054">编制</text>
<text x="991" y="1035">编制人</text><text x="1067" y="1035">于希双</text><text x="1141" y="1035">校对人</text><text x="1215" y="1035">孙亮</text><text x="1291" y="1035">开始时间</text><text x="1366" y="1035">2018-02-25</text><text x="1440" y="1035">编制日期</text><text x="1514" y="1035">2018-01-22</text>
<text x="991" y="1061">负责人</text><text x="1067" y="1061">邹欣哲</text><text x="1141" y="1061">审核人</text><text x="1215" y="1061">孔丹</text><text x="1291" y="1061">结束时间</text><text x="1366" y="1061">2018-06-01</text><text x="1440" y="1061">工期</text><text x="1514" y="1061">97天</text>
</g>
</svg>
